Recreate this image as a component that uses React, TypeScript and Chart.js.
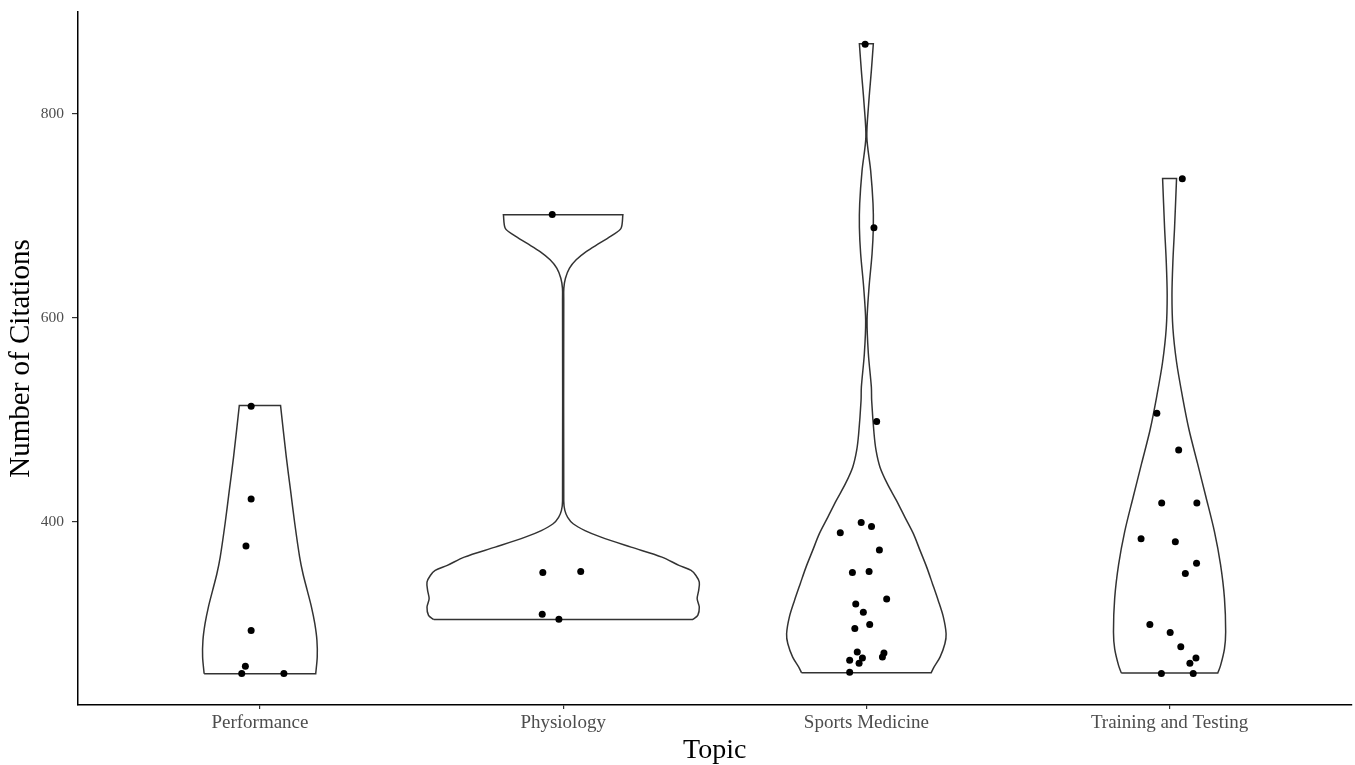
import React, { useEffect, useRef } from "react";
import { Chart, registerables } from "chart.js";

Chart.register(...registerables);

// ---------------- data ----------------
const categories = ["Performance", "Physiology", "Sports Medicine", "Training and Testing"];
const yTickValues = [400, 600, 800];
const yMin = 220;
const yMax = 899.5;

// observed citation counts (points) and their horizontal jitter (x units)
const performanceValues = [513, 422, 376, 293, 258, 251, 251];
const performanceJitter = [-0.029, -0.029, -0.046, -0.029, -0.048, -0.06, 0.079];

const physiologyValues = [701, 350, 351, 309, 304];
const physiologyJitter = [-0.036, -0.067, 0.058, -0.069, -0.014];

const sportsMedicineValues = [
  868, 688, 498, 399, 395, 389, 372, 350, 351, 324, 319, 311, 295, 299, 272, 266, 264, 261, 271, 267, 252,
];
const sportsMedicineJitter = [
  -0.004, 0.025, 0.034, -0.017, 0.017, -0.086, 0.043, -0.046, 0.009, 0.067, -0.035, -0.01, -0.038, 0.011,
  -0.03, -0.013, -0.055, -0.024, 0.058, 0.053, -0.055,
];

const trainingValues = [736, 506, 470, 418, 418, 383, 380, 359, 349, 299, 291, 277, 266, 261, 251, 251];
const trainingJitter = [
  0.042, -0.042, 0.03, -0.026, 0.09, -0.094, 0.019, 0.089, 0.052, -0.065, 0.002, 0.037, 0.087, 0.067, -0.027,
  0.078,
];

// violin outlines: density levels (y) and half-widths (x units), bottom to top
const performanceDensityY = [250.7, 267, 283.3, 299.7, 316, 332.4, 348.7, 365, 397.7, 430.4, 463, 513.7];
const performanceDensityW = [0.184, 0.189, 0.188, 0.181, 0.17, 0.156, 0.142, 0.131, 0.115, 0.101, 0.087, 0.068];

const physiologyDensityY = [
  303.9, 307.8, 316, 324.2, 332.4, 340.5, 347, 352, 356.9, 365, 374.8, 384.6, 391, 397.7, 404, 410.8, 420, 617,
  628.7, 638.5, 648.3, 656.5, 664.6, 672.8, 681, 687.5, 700.7,
];
const physiologyDensityW = [
  0.427, 0.444, 0.449, 0.442, 0.447, 0.449, 0.438, 0.422, 0.382, 0.326, 0.224, 0.125, 0.072, 0.033, 0.015,
  0.0056, 0.002, 0.002, 0.0023, 0.0076, 0.021, 0.043, 0.076, 0.12, 0.164, 0.191, 0.197,
];

const sportsMedicineDensityY = [
  251.7, 257.2, 267, 280, 289.9, 306.2, 322.5, 339, 355.2, 371.6, 388, 404.2, 420.6, 437, 453.2, 469.6, 486,
  518.6, 531.7, 564.4, 597, 629.8, 662.5, 688.5, 711.5, 744, 776.8, 809.5, 842, 868.3,
];
const sportsMedicineDensityW = [
  0.214, 0.223, 0.243, 0.259, 0.263, 0.254, 0.237, 0.218, 0.199, 0.177, 0.155, 0.127, 0.099, 0.069, 0.045,
  0.032, 0.0254, 0.0175, 0.0165, 0.0066, 0.0023, 0.0089, 0.0188, 0.023, 0.022, 0.0142, 0.0016, 0.0076, 0.0165,
  0.023,
];

const trainingDensityY = [
  251.4, 258.6, 275.1, 291.7, 324.8, 357.8, 390, 424, 457.1, 490.1, 523.2, 556.3, 589.4, 622.1, 655.2, 688.2,
  736.3,
];
const trainingDensityW = [
  0.159, 0.168, 0.181, 0.185, 0.181, 0.168, 0.148, 0.12, 0.092, 0.064, 0.042, 0.023, 0.011, 0.0079, 0.011,
  0.0165, 0.023,
];

const pointValues = [performanceValues, physiologyValues, sportsMedicineValues, trainingValues];
const pointJitter = [performanceJitter, physiologyJitter, sportsMedicineJitter, trainingJitter];
const densityYs = [performanceDensityY, physiologyDensityY, sportsMedicineDensityY, trainingDensityY];
const densityWs = [performanceDensityW, physiologyDensityW, sportsMedicineDensityW, trainingDensityW];

// ---------------- helpers ----------------
function violinOutline(center: number, ys: number[], ws: number[]) {
  const pts: { x: number; y: number }[] = [];
  const n = ys.length;
  // left side bottom -> top
  for (let i = 0; i < n; i++) pts.push({ x: center - ws[i], y: ys[i] });
  // sharp corner, then right side top -> bottom
  pts.push({ x: center - ws[n - 1], y: ys[n - 1] });
  pts.push({ x: center + ws[n - 1], y: ys[n - 1] });
  for (let i = n - 1; i >= 0; i--) pts.push({ x: center + ws[i], y: ys[i] });
  pts.push({ x: center + ws[0], y: ys[0] });
  pts.push({ x: center - ws[0], y: ys[0] });
  pts.push({ x: center - ws[0], y: ys[0] });
  return pts;
}

const SERIF = "'Liberation Serif', 'Times New Roman', serif";

export default function App() {
  const canvasRef = useRef<HTMLCanvasElement | null>(null);

  useEffect(() => {
    const canvas = canvasRef.current;
    if (!canvas) return;

    const points: { x: number; y: number }[] = [];
    pointValues.forEach((vals, ci) => {
      vals.forEach((v, j) => points.push({ x: ci + 1 + pointJitter[ci][j], y: v }));
    });

    const violinSets = categories.map((cat, ci) => ({
      label: cat,
      data: violinOutline(ci + 1, densityYs[ci], densityWs[ci]),
      showLine: true,
      fill: false,
      borderColor: "#333333",
      borderWidth: 1.5,
      tension: 0.3,
      pointRadius: 0,
      pointHoverRadius: 0,
    }));

    const chart = new Chart(canvas, {
      type: "scatter",
      data: {
        datasets: [
          {
            label: "points",
            data: points,
            showLine: false,
            pointRadius: 3.5,
            pointHoverRadius: 3.5,
            pointBackgroundColor: "#000000",
            pointBorderColor: "#000000",
            pointBorderWidth: 0,
          },
          ...violinSets,
        ] as any,
      },
      options: {
        responsive: false,
        animation: false,
        layout: { padding: { top: 12, right: 2, left: 0, bottom: 0 } },
        plugins: {
          legend: { display: false },
          tooltip: { enabled: false },
          title: { display: false },
        },
        scales: {
          x: {
            type: "linear",
            min: 0.4,
            max: 4.6,
            afterBuildTicks: (s: any) => {
              s.ticks = categories.map((_, i) => ({ value: i + 1 }));
            },
            afterFit: (s: any) => {
              s.height = 60;
              s.paddingLeft = 0;
              s.paddingRight = 0;
            },
            ticks: {
              autoSkip: false,
              maxRotation: 0,
              minRotation: 0,
              padding: 3,
              color: "#4D4D4D",
              font: { family: SERIF, size: 19 },
              callback: (v: any) => categories[Math.round(Number(v)) - 1] ?? "",
            },
            grid: {
              display: true,
              drawOnChartArea: false,
              drawTicks: true,
              tickLength: 4,
              color: "#333333",
              lineWidth: 1.2,
            },
            border: { display: true, color: "#000000", width: 1.5 },
            title: {
              display: true,
              text: "Topic",
              color: "#000000",
              font: { family: SERIF, size: 28, lineHeight: 1 },
              padding: { top: 0, bottom: 0 },
            },
          },
          y: {
            type: "linear",
            min: yMin,
            max: yMax,
            afterBuildTicks: (s: any) => {
              s.ticks = yTickValues.map((v) => ({ value: v }));
            },
            afterFit: (s: any) => {
              s.width = 78;
              s.paddingTop = 0;
              s.paddingBottom = 0;
            },
            ticks: {
              padding: 8,
              color: "#4D4D4D",
              font: { family: SERIF, size: 15.5 },
              callback: (v: any) => String(v),
            },
            grid: {
              display: true,
              drawOnChartArea: false,
              drawTicks: true,
              tickLength: 6,
              color: "#333333",
              lineWidth: 1.2,
            },
            border: { display: true, color: "#000000", width: 1.5 },
            title: {
              display: true,
              text: "Number of Citations",
              color: "#000000",
              font: { family: SERIF, size: 29, lineHeight: 1 },
              padding: { top: 7, bottom: 0 },
            },
          },
        },
      } as any,
    });

    return () => chart.destroy();
  }, []);

  return (
    <div style={{ position: "fixed", left: 0, top: 0, width: 1355, height: 765, background: "#ffffff" }}>
      <canvas ref={canvasRef} width={1355} height={765} style={{ display: "block" }} />
    </div>
  );
}
